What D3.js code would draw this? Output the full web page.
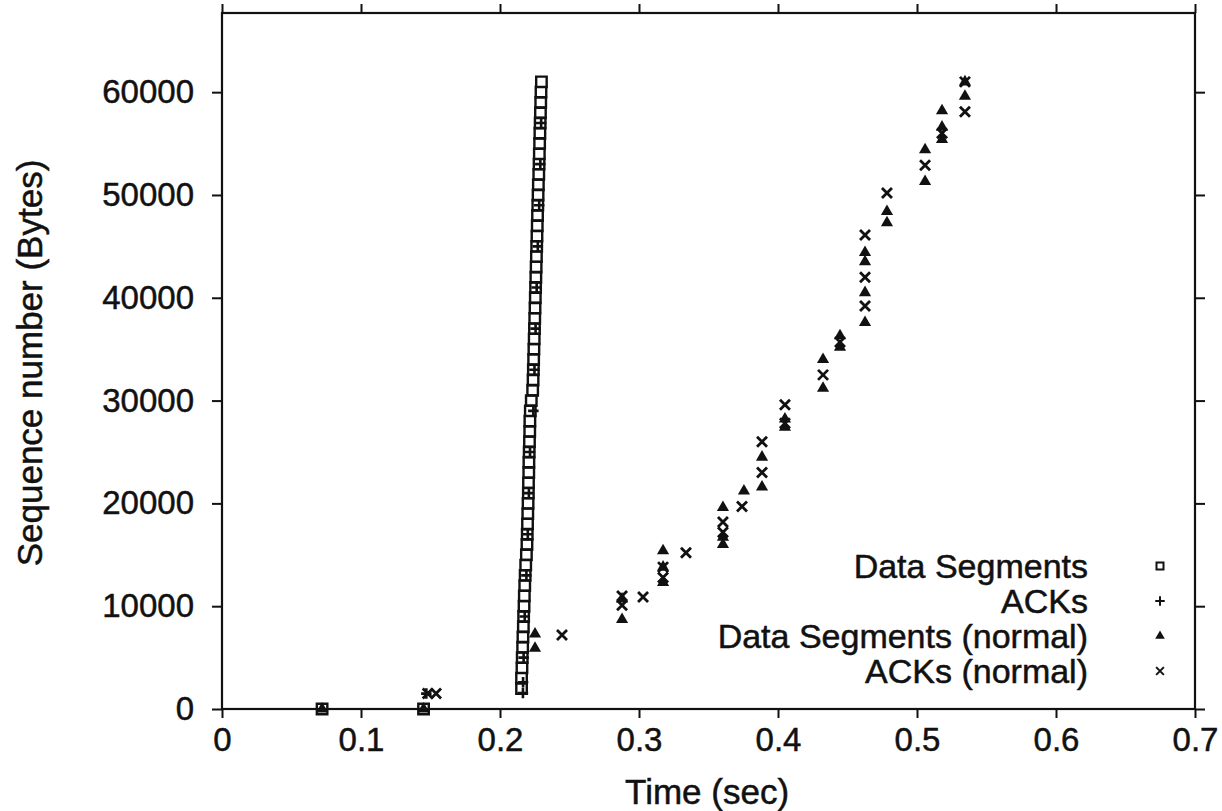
<!DOCTYPE html>
<html>
<head>
<meta charset="utf-8">
<script src="https://cdn.jsdelivr.net/npm/d3@7"></script>
<style>
  body { margin: 0; background: #fff; }
  text { font-family: "Liberation Sans", Arial, Helvetica, sans-serif; fill: #111; stroke: #111; stroke-width: 0.5px; }
</style>
</head>
<body>
<div id="chart"></div>
<script>
// ---- data ----
// fast transfer: data segments (squares) and ACKs (plus)
var segTime = [0.0720, 0.1450,
  0.2155, 0.2155, 0.2158, 0.2160, 0.2163, 0.2165, 0.2168, 0.2170, 0.2173, 0.2175,
  0.2178, 0.2181, 0.2185, 0.2190, 0.2194, 0.2196, 0.2198, 0.2200, 0.2202, 0.2204,
  0.2205, 0.2207, 0.2208, 0.2210, 0.2212, 0.2214, 0.2215, 0.2218, 0.2225, 0.2235,
  0.2238, 0.2240, 0.2242, 0.2244, 0.2246, 0.2248, 0.2250, 0.2252, 0.2254, 0.2256,
  0.2258, 0.2260, 0.2262, 0.2264, 0.2266, 0.2268, 0.2270, 0.2272, 0.2274, 0.2276,
  0.2279, 0.2281, 0.2283, 0.2285, 0.2287, 0.2289, 0.2291, 0.2293, 0.2295, 0.2298];
var segSeq = [0, 0,
  2000, 3000, 4000, 5000, 6000, 7000, 8000, 9000, 10000, 11000,
  12000, 13000, 14000, 15000, 16000, 17000, 18000, 19000, 20000, 21000,
  22000, 23000, 24000, 25000, 26000, 27000, 28000, 29000, 30000, 31000,
  32000, 33000, 34000, 35000, 36000, 37000, 38000, 39000, 40000, 41000,
  42000, 43000, 44000, 45000, 46000, 47000, 48000, 49000, 50000, 51000,
  52000, 53000, 54000, 55000, 56000, 57000, 58000, 59000, 60000, 61000];

var ackTime = [0.1470, 0.2165, 0.2166, 0.2170, 0.2178, 0.2190, 0.2200, 0.2208,
  0.2216, 0.2240, 0.2248, 0.2256, 0.2264, 0.2272, 0.2282, 0.2290, 0.2296];
var ackSeq = [1500, 1550, 2600, 5000, 9000, 13000, 17000, 21000,
  25000, 29000, 33000, 37000, 41000, 45000, 49000, 53000, 57000];

// normal transfer: data segments (triangles) and ACKs (x)
var normSegTime = [0.0720, 0.1450, 0.2252, 0.2252,
  0.2878, 0.2878, 0.3173, 0.3173, 0.3173, 0.3604, 0.3604, 0.3604,
  0.3755, 0.3885, 0.3885, 0.4050, 0.4050, 0.4324, 0.4324, 0.4446, 0.4446,
  0.4626, 0.4626, 0.4626, 0.4626, 0.4784, 0.4784, 0.5058, 0.5058,
  0.5180, 0.5180, 0.5180, 0.5345, 0.5345];
var normSegSeq = [0, 0, 5900, 7300,
  8700, 10700, 12300, 13800, 15400, 16000, 16700, 19600,
  21200, 21600, 24500, 27400, 28200, 31200, 34000, 35200, 36300,
  37600, 40500, 43500, 44400, 47300, 48400, 51300, 54400,
  55400, 56600, 58200, 59600, 61000];

var normAckTime = [0.1480, 0.1540, 0.2446, 0.2878, 0.2878, 0.3029,
  0.3173, 0.3173, 0.3338, 0.3604, 0.3604, 0.3741, 0.3885, 0.3885,
  0.4050, 0.4050, 0.4324, 0.4446, 0.4626, 0.4626, 0.4626, 0.4784,
  0.5058, 0.5180, 0.5345, 0.5345];
var normAckSeq = [1500, 1500, 7200, 10100, 11000, 10900,
  12800, 13800, 15200, 17200, 18200, 19700, 23000, 26000,
  27800, 29600, 32500, 35700, 39200, 42000, 46100, 50200,
  52900, 56000, 58100, 61000];

var xTicks = [0, 0.1, 0.2, 0.3, 0.4, 0.5, 0.6, 0.7];
var yTicks = [0, 10000, 20000, 30000, 40000, 50000, 60000];
var legendLabels = ["Data Segments", "ACKs", "Data Segments (normal)", "ACKs (normal)"];

// ---- layout ----
var W = 1222, H = 811;
var margin = {top: 13, right: 27, bottom: 102, left: 222},
    width = W - margin.left - margin.right,
    height = H - margin.top - margin.bottom;

var svg = d3.select("#chart")
    .append("svg")
    .attr("width", W)
    .attr("height", H)
    .append("g")
    .attr("transform", "translate(" + margin.left + "," + margin.top + ")");

var x = d3.scaleLinear().domain([0, 0.7]).range([0, width]);
var y = d3.scaleLinear().domain([0, 67700]).range([height, 0]);

// custom stroke symbols
var plusType = {draw: function(ctx, size) {
  var r = Math.sqrt(size) / 2;
  ctx.moveTo(-r, 0); ctx.lineTo(r, 0);
  ctx.moveTo(0, -r); ctx.lineTo(0, r);
}};
var timesType = {draw: function(ctx, size) {
  var r = Math.sqrt(size) / 2;
  ctx.moveTo(-r, -r); ctx.lineTo(r, r);
  ctx.moveTo(-r, r); ctx.lineTo(r, -r);
}};

// axes: ticks outward on all four sides
function styleAxis(g) {
  g.select(".domain").remove();
  g.selectAll(".tick line").attr("stroke", "#111").attr("stroke-width", 2);
  g.selectAll(".tick text").style("font-size", "33px").attr("fill", "#111");
}

svg.append("g")
  .attr("transform", "translate(0," + height + ")")
  .call(d3.axisBottom(x).tickValues(xTicks).tickFormat(d3.format("~g")).tickSize(9).tickPadding(10))
  .call(styleAxis);

svg.append("g")
  .call(d3.axisTop(x).tickValues(xTicks).tickFormat("").tickSize(9))
  .call(styleAxis);

svg.append("g")
  .call(d3.axisLeft(y).tickValues(yTicks).tickFormat(d3.format("d")).tickSize(10).tickPadding(18))
  .call(styleAxis);

svg.append("g")
  .attr("transform", "translate(" + width + ",0)")
  .call(d3.axisRight(y).tickValues(yTicks).tickFormat("").tickSize(10))
  .call(styleAxis);

svg.append("rect")
  .attr("width", width)
  .attr("height", height)
  .attr("fill", "none")
  .attr("stroke", "#111")
  .attr("stroke-width", 2.2);

// axis titles
svg.append("text")
  .attr("x", x(0.349))
  .attr("y", height + 95)
  .attr("text-anchor", "middle")
  .style("font-size", "35px")
  .text("Time (sec)");

svg.append("text")
  .attr("transform", "translate(" + (42 - margin.left) + "," + (363 - margin.top) + ") rotate(-90)")
  .attr("text-anchor", "middle")
  .style("font-size", "35px")
  .text("Sequence number (Bytes)");

// ---- marks ----
function pts(t, s) { return t.map(function(d, i) { return [d, s[i]]; }); }

svg.append("g").selectAll("path")
  .data(pts(normSegTime, normSegSeq))
  .join("path")
  .attr("transform", function(d) { return "translate(" + x(d[0]) + "," + y(d[1]) + ")"; })
  .attr("d", d3.symbol().type(d3.symbolTriangle).size(64))
  .attr("fill", "#111");

svg.append("g").selectAll("path")
  .data(pts(normAckTime, normAckSeq))
  .join("path")
  .attr("transform", function(d) { return "translate(" + x(d[0]) + "," + y(d[1]) + ")"; })
  .attr("d", d3.symbol().type(timesType).size(100))
  .attr("fill", "none")
  .attr("stroke", "#111")
  .attr("stroke-width", 2.8);

svg.append("g").selectAll("path")
  .data(pts(segTime, segSeq))
  .join("path")
  .attr("transform", function(d) { return "translate(" + x(d[0]) + "," + y(d[1]) + ")"; })
  .attr("d", d3.symbol().type(d3.symbolSquare).size(110))
  .attr("fill", "none")
  .attr("stroke", "#111")
  .attr("stroke-width", 2.4);

svg.append("g").selectAll("path")
  .data(pts(ackTime, ackSeq))
  .join("path")
  .attr("transform", function(d) { return "translate(" + x(d[0]) + "," + y(d[1]) + ")"; })
  .attr("d", d3.symbol().type(plusType).size(110))
  .attr("fill", "none")
  .attr("stroke", "#111")
  .attr("stroke-width", 2.6);

// ---- legend ----
var legend = svg.append("g")
  .attr("transform", "translate(" + (1088 - margin.left) + "," + (566 - margin.top) + ")");

var legendSym = [
  {type: d3.symbolSquare, size: 49, fill: "#fff", stroke: 2},
  {type: plusType, size: 90, fill: "none", stroke: 2},
  {type: d3.symbolTriangle, size: 40, fill: "#111", stroke: 0},
  {type: timesType, size: 60, fill: "none", stroke: 2}
];

legendLabels.forEach(function(label, i) {
  var row = legend.append("g").attr("transform", "translate(0," + (i * 35) + ")");
  row.append("text")
    .attr("text-anchor", "end")
    .attr("dy", "0.35em")
    .style("font-size", "34px")
    .text(label);
  row.append("path")
    .attr("transform", "translate(72,0)")
    .attr("d", d3.symbol().type(legendSym[i].type).size(legendSym[i].size))
    .attr("fill", legendSym[i].fill)
    .attr("stroke", "#111")
    .attr("stroke-width", legendSym[i].stroke);
});
</script>
</body>
</html>
